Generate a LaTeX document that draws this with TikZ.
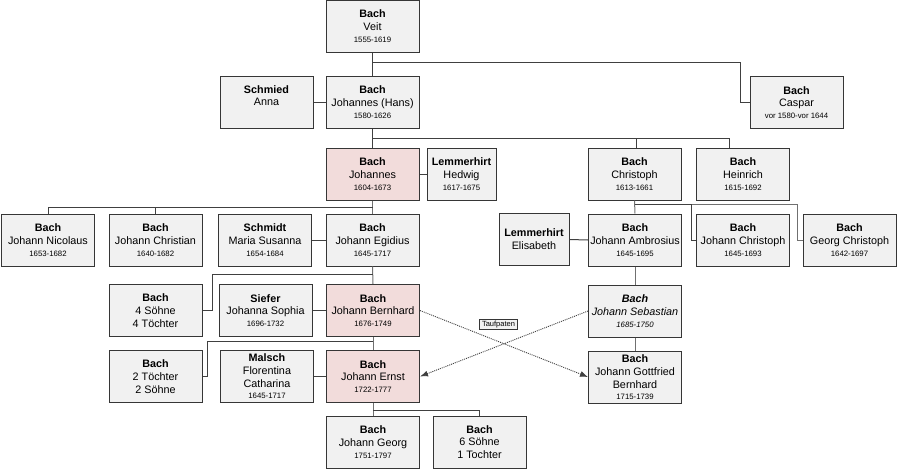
\documentclass[tikz,border=0pt]{standalone}
\usepackage{fontspec}
\setmainfont{Liberation Sans}
\usetikzlibrary{calc,arrows.meta}
\definecolor{boxg}{HTML}{F1F1F1}
\definecolor{pinkc}{HTML}{F2DCDB}
\definecolor{bordc}{HTML}{363636}
\definecolor{linec}{HTML}{404040}
\definecolor{linelt}{HTML}{707070}
\definecolor{dotc}{HTML}{404040}
\newcommand{\yrs}[1]{{\fontsize{7.8}{9}\selectfont #1}}
\tikzset{
  box/.style={draw=bordc, line width=1pt, fill=boxg, minimum width=93pt, minimum height=52pt,
    inner sep=0pt, align=center, font=\fontsize{10.8}{12.8}\selectfont},
  pinkbox/.style={box, fill=pinkc},
  narrowbox/.style={box, minimum width=69pt},
  link/.style={draw=linec, line width=1pt},
  linklt/.style={draw=linelt, line width=1pt},
  dots/.style={draw=dotc, line width=0.9pt, dash pattern=on 1pt off 1pt, -{Latex[length=8pt,width=6pt]}},
  tag/.style={draw=bordc, line width=0.6pt, fill=boxg, inner xsep=2.5pt, inner ysep=1.8pt, font=\fontsize{7.5}{8}\selectfont}
}
\begin{document}
\begin{tikzpicture}[x=1pt,y=-1pt]
\useasboundingbox (0,0) rectangle (897,469);
% row 1
\node[box] (veit) at (372.5,26) {\textbf{Bach}\\Veit\\[-1pt]\yrs{1555-1619}};
% row 2
\node[box] (anna) at (266.5,102) {\textbf{Schmied}\\Anna\\\mbox{}};
\node[box] (hans) at (372.5,102) {\textbf{Bach}\\Johannes (Hans)\\[-1pt]\yrs{1580-1626}};
\node[box] (caspar) at (796.5,102.5) {\textbf{Bach}\\Caspar\\[-1pt]\yrs{vor 1580-vor 1644}};
% row 3
\node[pinkbox] (johannes) at (372.5,174) {\textbf{Bach}\\Johannes\\[-1pt]\yrs{1604-1673}};
\node[narrowbox] (hedwig) at (461.5,174) {\textbf{Lemmerhirt}\\Hedwig\\[-1pt]\yrs{1617-1675}};
\node[box] (christoph) at (634.5,174) {\textbf{Bach}\\Christoph\\[-1pt]\yrs{1613-1661}};
\node[box] (heinrich) at (743,174) {\textbf{Bach}\\Heinrich\\[-1pt]\yrs{1615-1692}};
% row 4
\node[box] (nicolaus) at (48,240) {\textbf{Bach}\\Johann Nicolaus\\[-1pt]\yrs{1653-1682}};
\node[box] (jchristian) at (155.5,240) {\textbf{Bach}\\Johann Christian\\[-1pt]\yrs{1640-1682}};
\node[box] (maria) at (265,240) {\textbf{Schmidt}\\Maria Susanna\\[-1pt]\yrs{1654-1684}};
\node[box] (egidius) at (372.5,240) {\textbf{Bach}\\Johann Egidius\\[-1pt]\yrs{1645-1717}};
\node[narrowbox, minimum width=70pt] (elisabeth) at (534,239.5) {\textbf{Lemmerhirt}\\Elisabeth};
\node[box] (ambrosius) at (635,240) {\textbf{Bach}\\Johann Ambrosius\\[-1pt]\yrs{1645-1695}};
\node[box] (jchristoph) at (743,240) {\textbf{Bach}\\Johann Christoph\\[-1pt]\yrs{1645-1693}};
\node[box] (georg) at (849.5,240) {\textbf{Bach}\\Georg Christoph\\[-1pt]\yrs{1642-1697}};
% row 5
\node[box] (soehne4) at (155.5,310.5) {\textbf{Bach}\\4 Söhne\\4 Töchter};
\node[box] (siefer) at (265.5,310.5) {\textbf{Siefer}\\Johanna Sophia\\[-1pt]\yrs{1696-1732}};
\node[pinkbox] (bernhard) at (373,310.5) {\textbf{Bach}\\Johann Bernhard\\[-1pt]\yrs{1676-1749}};
\node[box] (sebastian) at (635,311) {\textbf{\itshape Bach}\\\itshape Johann Sebastian\\[-1pt]\yrs{\itshape 1685-1750}};
% row 6
\node[box] (toechter2) at (155.5,376.5) {\textbf{Bach}\\2 Töchter\\2 Söhne};
\node[box] (malsch) at (267,376.5) {\textbf{Malsch}\\Florentina\\Catharina\\[-1.5pt]\yrs{1645-1717}};
\node[pinkbox] (ernst) at (373,376.5) {\textbf{Bach}\\Johann Ernst\\[-1pt]\yrs{1722-1777}};
\node[box] (gottfried) at (635,377) {\textbf{Bach}\\Johann Gottfried\\Bernhard\\[-1.5pt]\yrs{1715-1739}};
% row 7
\node[box] (jgeorg) at (373,442) {\textbf{Bach}\\Johann Georg\\[-1pt]\yrs{1751-1797}};
\node[box] (soehne6) at (479.5,442) {\textbf{Bach}\\6 Söhne\\1 Tochter};
% label
\node[tag] (tauf) at (498.5,324.5) {Taufpaten};

% connectors
\draw[link] (veit.south) -- (hans.north);
\draw[link] ($(veit.south)+(0,10)$) -| ($(caspar.west)+(-9,0)$) -- (caspar.west);
\draw[link] (anna.east) -- (hans.west);
\draw[link] (hans.south) -- (johannes.north);
\draw[link] ($(hans.south)+(0,10)$) -| ($(heinrich.north)+(-14,0)$);
\draw[link] ($(hans.south)+(0,10)$) -| ($(christoph.north)+(2,0)$);
\draw[link] (johannes.east) -- (hedwig.west);
\draw[linklt] (johannes.south) -- (egidius.north);
\draw[link] ($(johannes.south)+(0,7)$) -| (nicolaus.north);
\draw[link] ($(johannes.south)+(0,7)$) -| (jchristian.north);
\draw[link] (maria.east) -- (egidius.west);
\draw[linklt] (christoph.south) -- (ambrosius.north);
\draw[linklt] ($(christoph.south)+(0,4)$) -| ($(georg.west)+(-5,0)$) -- (georg.west);
\draw[link] ($(christoph.south)+(0,4)$) -| ($(jchristoph.west)+(-5,0)$) -- (jchristoph.west);
\draw[link] (elisabeth.east) -- (ambrosius.west);
\draw[linklt] (egidius.south) -- (bernhard.north);
\draw[link] ($(egidius.south)+(0,8)$) -| ($(soehne4.east)+(10,0)$) -- (soehne4.east);
\draw[link] (siefer.east) -- (bernhard.west);
\draw[linklt] (ambrosius.south) -- (sebastian.north);
\draw[linklt] (bernhard.south) -- (ernst.north);
\draw[link] ($(bernhard.south)+(0,4)$) -| ($(toechter2.east)+(5,0)$) -- (toechter2.east);
\draw[link] (malsch.east) -- (ernst.west);
\draw[linklt] (sebastian.south) -- (gottfried.north);
\draw[linklt] (ernst.south) -- (jgeorg.north);
\draw[link] ($(ernst.south)+(0,7)$) -| (soehne6.north);
% Taufpaten arrows
\draw[dots] (bernhard.east) -- (gottfried.west);
\draw[dots] (sebastian.west) -- (ernst.east);
\end{tikzpicture}
\end{document}
